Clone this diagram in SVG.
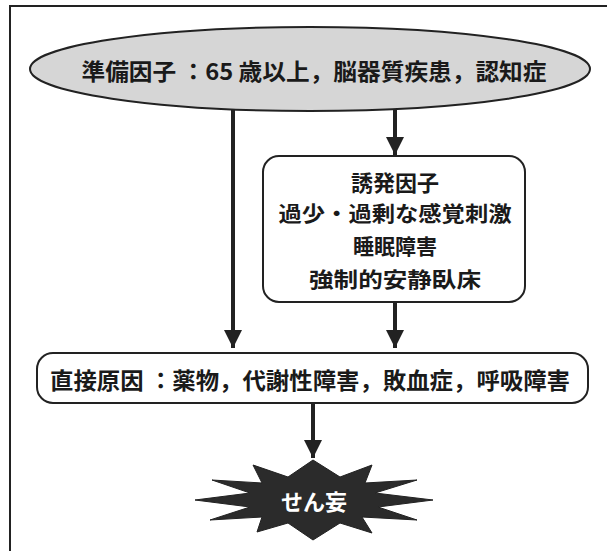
<svg xmlns="http://www.w3.org/2000/svg" width="607" height="551" viewBox="0 0 607 551">
<defs>
<style>
.t{font-family:"Noto Sans CJK JP","Noto Sans CJK SC",sans-serif;font-weight:700;fill:#1a1a1a;text-anchor:middle;dominant-baseline:central}
.box{fill:#fff;stroke:#222;stroke-width:2}
.ln{stroke:#222;stroke-width:4;fill:none}
</style>
<marker id="ah" markerUnits="userSpaceOnUse" markerWidth="20" markerHeight="20" refX="18" refY="10" orient="auto">
<path d="M0,1 L18,10 L0,19 Z" fill="#222"/>
</marker>
</defs>
<rect width="607" height="551" fill="#fff"/>
<g id="frame"><path d="M10,551 V6 H607" fill="none" stroke="#222" stroke-width="2"/></g>
<g id="connectors">
<line class="ln" x1="233" y1="110" x2="233" y2="348" marker-end="url(#ah)"/>
<line class="ln" x1="395" y1="110" x2="395" y2="155" marker-end="url(#ah)"/>
<line class="ln" x1="395" y1="302" x2="395" y2="348" marker-end="url(#ah)"/>
<line class="ln" x1="313" y1="403" x2="313" y2="458" marker-end="url(#ah)"/>
</g>
<g id="predisposing">
<ellipse cx="310" cy="69" rx="280" ry="42" fill="#d6d6d6" stroke="#222" stroke-width="2"/>
<text class="t" x="314" y="70" font-size="23" textLength="465" lengthAdjust="spacingAndGlyphs">準備因子 ：65 歳以上，脳器質疾患，認知症</text>
</g>
<g id="precipitating">
<rect class="box" x="263" y="156" width="262" height="146" rx="16"/>
<text class="t" x="395" y="181" font-size="22">誘発因子</text>
<text class="t" x="395" y="212" font-size="21" textLength="233" lengthAdjust="spacingAndGlyphs">過少・過剰な感覚刺激</text>
<text class="t" x="395" y="245" font-size="21">睡眠障害</text>
<text class="t" x="395" y="278" font-size="21" textLength="172" lengthAdjust="spacingAndGlyphs">強制的安静臥床</text>
</g>
<g id="direct">
<rect class="box" x="37" y="353" width="551" height="50" rx="16"/>
<text class="t" x="310" y="379" font-size="23" textLength="520" lengthAdjust="spacingAndGlyphs">直接原因 ：薬物，代謝性障害，敗血症，呼吸障害</text>
</g>
<g id="delirium" transform="translate(0,5)">
<polygon points="313,455 340,472 372,460 365,478 417,475 375,488 433,495 378,502 417,515 362,512 372,528 340,518 313,535 288,518 257,527 262,512 210,515 250,502 195,495 250,488 212,475 262,478 253,460 288,472" fill="#2b2b2b" stroke="#222" stroke-width="1"/>
<text x="314" y="495" font-size="22" font-family="Noto Sans CJK JP, sans-serif" font-weight="700" fill="#fff" text-anchor="middle" dominant-baseline="central">せん妄</text>
</g>
</svg>
